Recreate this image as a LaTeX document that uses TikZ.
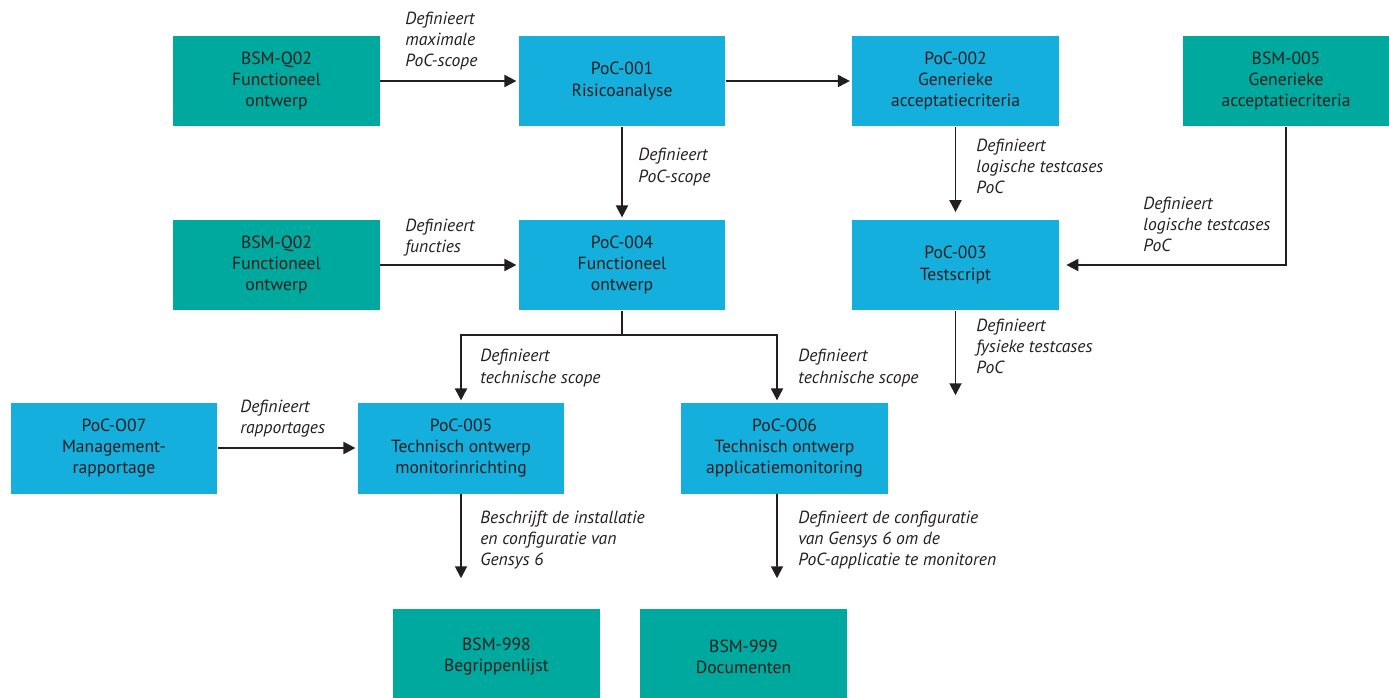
\documentclass[tikz,border=0pt]{standalone}
\usepackage{fontspec}
\setmainfont{PT Sans}
\usepackage{tikz}
\usetikzlibrary{arrows.meta,positioning,calc}
\definecolor{ink}{HTML}{231F20}
\definecolor{bsm}{HTML}{00A99D}
\definecolor{poc}{HTML}{14AFDD}

\begin{document}
\begin{tikzpicture}[x=0.02cm,y=-0.02cm,
    every node/.style={font=\fontsize{10}{12}\selectfont,text=ink},
    blok/.style={minimum width=4.14cm,minimum height=1.82cm,inner sep=0pt,
      align=center},
    bsmblok/.style={blok,fill=bsm},
    pocblok/.style={blok,fill=poc},
    lbl/.style={anchor=west,align=left,inner sep=0pt,
      font=\fontsize{10}{12}\selectfont\itshape},
    arr/.style={draw=ink,line width=1.1pt,
      -{Triangle[length=0.24cm,width=0.24cm]},shorten >=1pt}]
    \useasboundingbox (0,0) rectangle (1389,697);
    % bovenste rij
    \node[bsmblok] (q02a) at (276.5,81) {BSM-Q02\\Functioneel\\ontwerp};
    \node[pocblok] (p001) at (622,81) {PoC-001\\Risicoanalyse};
    \node[pocblok] (p002) at (955.5,81) {PoC-002\\Generieke\\acceptatiecriteria};
    \node[bsmblok] (b005) at (1286,81) {BSM-005\\Generieke\\acceptatiecriteria};
    % tweede rij
    \node[bsmblok] (q02b) at (276.5,265) {BSM-Q02\\Functioneel\\ontwerp};
    \node[pocblok] (p004) at (622,265) {PoC-004\\Functioneel\\ontwerp};
    \node[pocblok] (p003) at (955.5,265) {PoC-003\\Testscript};
    % derde rij
    \node[pocblok] (p007) at (114,448) {PoC-O07\\Management-\\rapportage};
    \node[pocblok] (p005) at (461,448) {PoC-005\\Technisch ontwerp\\monitorinrichting};
    \node[pocblok] (p006) at (784.5,448) {PoC-O06\\Technisch ontwerp\\applicatiemonitoring};
    % onderste rij
    \node[bsmblok,minimum height=1.9cm] (b998) at (496.5,656.5) {BSM-998\\Begrippenlijst};
    \node[bsmblok,minimum height=1.9cm] (b999) at (743.5,656.5) {BSM-999\\Documenten};

    \coordinate (split) at (622,335);
    \coordinate (e003) at (955.5,397);
    \coordinate (e005) at (461,580);
    \coordinate (e006) at (777,580);

    \draw[arr] (q02a) -- (p001);
    \draw[arr] (p001) -- (p002);
    \draw[arr] (p001) -- (p004);
    \draw[arr] (q02b) -- (p004);
    \draw[arr,shorten >=4pt] (p002) -- (p003);
    \draw[arr,shorten >=4pt] (b005.south) |- (p003.east);
    \draw[arr] (p003) -- (e003);
    \draw[line width=1.1pt,draw=ink] (p004.south) -- (split);
    \draw[arr] (split) -| (p005.north);
    \draw[arr] (split) -| ([xshift=-0.15cm]p006.north);
    \draw[arr] (p007) -- (p005);
    \draw[arr] (p005) -- (e005);
    \draw[arr] ([xshift=-0.15cm]p006.south) -- (e006);

    \node[lbl] (l1) at (405,41) {Definieert\\maximale\\PoC-scope};
    \node[lbl] (l2) at (638,167) {Definieert\\PoC-scope};
    \node[lbl] (l3) at (405,238) {Definieert\\functies};
    \node[lbl] (l4) at (976,166) {Definieert\\logische testcases\\PoC};
    \node[lbl] (l5) at (1143,224) {Definieert\\logische testcases\\PoC};
    \node[lbl] (l6) at (976,346) {Definieert\\fysieke testcases\\PoC};
    \node[lbl] (l7) at (480,368) {Definieert\\technische scope};
    \node[lbl] (l8) at (798,368) {Definieert\\technische scope};
    \node[lbl] (l9) at (240,419) {Definieert\\rapportages};
    \node[lbl] (l10) at (480,540) {Beschrijft de installatie\\en configuratie van\\Gensys 6};
    \node[lbl] (l11) at (798,540) {Definieert de configuratie\\van Gensys 6 om de\\PoC-applicatie te monitoren};
  \end{tikzpicture}
\end{document}
